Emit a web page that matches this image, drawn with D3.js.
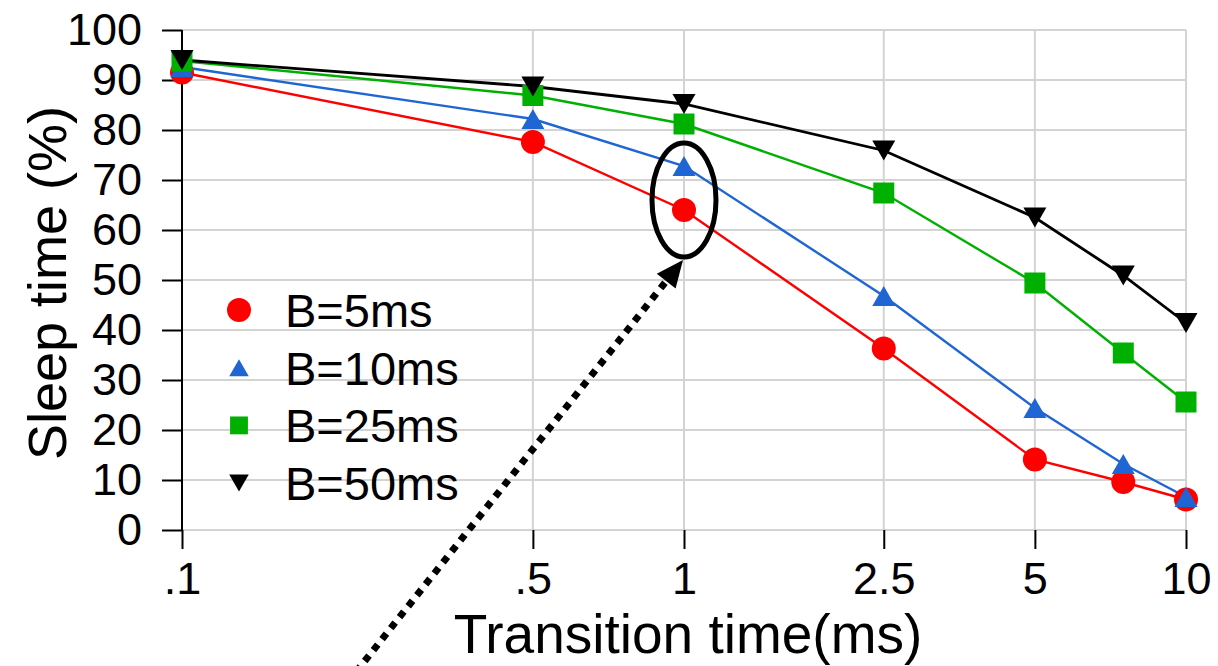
<!DOCTYPE html>
<html>
<head>
<meta charset="utf-8">
<script src="https://cdn.jsdelivr.net/npm/d3@7"></script>
<style>
  html, body { margin: 0; padding: 0; background: #fff; }
  svg { display: block; font-family: "Liberation Sans", Arial, sans-serif; }
</style>
</head>
<body>
<svg id="chart" width="1218" height="666"></svg>
<script>
// Transition time (ms) at each measurement
const transitionTimes = [0.1, 0.5, 1, 2.5, 5, 7.5, 10];
// Sleep time (%) for each break-even setting
const sleepB5  = [91.5, 77.6, 64.0, 36.3, 14.1, 9.6, 6.1];
const sleepB10 = [92.6, 82.2, 72.8, 46.8, 24.4, 13.2, 6.6];
const sleepB25 = [93.8, 86.9, 81.2, 67.4, 49.4, 35.4, 25.6];
const sleepB50 = [94.0, 88.7, 85.2, 75.9, 62.5, 50.9, 41.4];
const seriesNames = ["B=5ms", "B=10ms", "B=25ms", "B=50ms"];
const xTickValues = [0.1, 0.5, 1, 2.5, 5, 10];
const xTickLabels = [".1", ".5", "1", "2.5", "5", "10"];
const yTickValues = [0, 10, 20, 30, 40, 50, 60, 70, 80, 90, 100];

const series = [
  { name: seriesNames[0], values: sleepB5,  color: "#ff0000", shape: "circle" },
  { name: seriesNames[1], values: sleepB10, color: "#1f66d4", shape: "triangle" },
  { name: seriesNames[2], values: sleepB25, color: "#00b000", shape: "square" },
  { name: seriesNames[3], values: sleepB50, color: "#000000", shape: "triangleDown" }
];

const svg = d3.select("#chart");
const x = d3.scaleLog().domain([0.1, 10]).range([182, 1186]);
const y = d3.scaleLinear().domain([0, 100]).range([530, 30]);

// marker paths, centred on their bounding box
function markerPath(shape, s = 1) {
  const p = d3.path();
  if (shape === "circle") {
    const r = 12 * s;
    p.arc(0, 0, r, 0, 2 * Math.PI);
  } else if (shape === "square") {
    const h = 10.5 * s;
    p.rect(-h, -h, 2 * h, 2 * h);
  } else if (shape === "triangle") {
    const w = 11.5 * s, h = 10 * s;
    p.moveTo(0, -h); p.lineTo(w, h); p.lineTo(-w, h); p.closePath();
  } else {
    const w = 11.5 * s, h = 10 * s;
    p.moveTo(-w, -h); p.lineTo(w, -h); p.lineTo(0, h); p.closePath();
  }
  return p.toString();
}

// gridlines
const grid = svg.append("g");
grid.selectAll("line.h").data(yTickValues).join("line")
  .attr("x1", x(0.1)).attr("x2", x(10))
  .attr("y1", d => y(d)).attr("y2", d => y(d))
  .attr("stroke", "#d3d3d3").attr("stroke-width", 2);
grid.selectAll("line.v").data(xTickValues.slice(1)).join("line")
  .attr("x1", d => x(d)).attr("x2", d => x(d))
  .attr("y1", y(0)).attr("y2", y(100))
  .attr("stroke", "#d3d3d3").attr("stroke-width", 2);

// y axis
const yAxis = d3.axisLeft(y).tickValues(yTickValues).tickSize(20).tickPadding(20)
  .tickFormat(d3.format("d"));
const gy = svg.append("g").attr("transform", `translate(${x(0.1)},0)`).call(yAxis);
gy.select(".domain").attr("stroke", "#000").attr("stroke-width", 2)
  .attr("d", `M0,${y(100)}V${y(0)}`);
gy.selectAll(".tick line").attr("stroke", "#000").attr("stroke-width", 2);
gy.selectAll(".tick text").attr("font-size", 45).attr("fill", "#000")
  .attr("font-family", "Liberation Sans, Arial, sans-serif");

// x axis
const xAxis = d3.axisBottom(x).tickValues(xTickValues).tickSize(19).tickPadding(13)
  .tickFormat((d, i) => xTickLabels[i]);
const gx = svg.append("g").attr("transform", `translate(0,${y(0)})`).call(xAxis);
gx.select(".domain").remove();
gx.selectAll(".tick line").attr("stroke", "#000").attr("stroke-width", 2);
gx.selectAll(".tick text").attr("font-size", 45).attr("fill", "#000")
  .attr("font-family", "Liberation Sans, Arial, sans-serif");

// axis titles
svg.append("text").attr("x", 688).attr("y", 653)
  .attr("text-anchor", "middle").attr("font-size", 55).attr("fill", "#000")
  .text("Transition time(ms)");
svg.append("text").attr("transform", "translate(66,283) rotate(-90)")
  .attr("text-anchor", "middle").attr("font-size", 54).attr("fill", "#000")
  .text("Sleep time (%)");

// lines and markers
const line = d3.line().x((d, i) => x(transitionTimes[i])).y(d => y(d));
const layers = svg.append("g");
series.forEach(s => {
  layers.append("path").attr("d", line(s.values))
    .attr("fill", "none").attr("stroke", s.color)
    .attr("stroke-width", s.color === "#000000" ? 2.8 : 2.4);
});
series.forEach(s => {
  layers.append("g").selectAll("path").data(s.values).join("path")
    .attr("transform", (d, i) => `translate(${x(transitionTimes[i])},${y(d)})`)
    .attr("d", markerPath(s.shape)).attr("fill", s.color);
});

// legend
const legend = svg.append("g").attr("transform", "translate(239,310)");
series.forEach((s, i) => {
  const row = legend.append("g").attr("transform", `translate(0,${i * 57.7})`);
  row.append("path").attr("d", markerPath(s.shape, s.shape === "circle" ? 1 : 0.85))
    .attr("fill", s.color);
  row.append("text").attr("x", 46).attr("y", 17)
    .attr("font-size", 47).attr("fill", "#000").text(s.name);
});

// highlight around the 1 ms points, with a dotted pointer arrow
const cx = x(1), cy = y(66), rx = 32, ry = 57;
svg.append("ellipse").attr("cx", cx).attr("cy", cy).attr("rx", rx).attr("ry", ry)
  .attr("fill", "none").attr("stroke", "#000").attr("stroke-width", 5);
const tip = [cx - 1, cy + ry + 3];
const start = [tip[0] - 327, tip[1] + 412];
const len = Math.hypot(tip[0] - start[0], tip[1] - start[1]);
const ux = (tip[0] - start[0]) / len, uy = (tip[1] - start[1]) / len;
const headLen = 27, headHalf = 12;
const base = [tip[0] - headLen * ux, tip[1] - headLen * uy];
svg.append("line")
  .attr("x1", start[0]).attr("y1", start[1])
  .attr("x2", base[0] + 2 * ux).attr("y2", base[1] + 2 * uy)
  .attr("stroke", "#000").attr("stroke-width", 7)
  .attr("stroke-dasharray", "7 7");
svg.append("path")
  .attr("d", `M${tip[0]},${tip[1]}L${base[0] - headHalf * uy},${base[1] + headHalf * ux}L${base[0] + headHalf * uy},${base[1] - headHalf * ux}Z`)
  .attr("fill", "#000");
</script>
</body>
</html>
